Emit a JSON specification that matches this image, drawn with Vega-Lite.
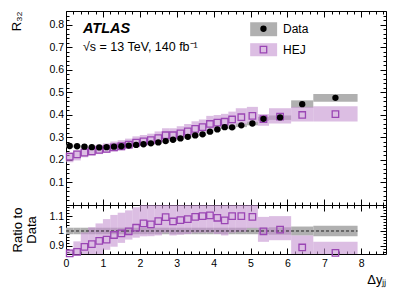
{
  "$schema": "https://vega.github.io/schema/vega-lite/v6.json",
  "padding": {"left": 10, "top": 5, "right": 20, "bottom": 2},
  "spacing": 0,
  "bounds": "flush",
  "config": {
    "view": {"stroke": "black", "strokeWidth": 1},
    "font": "Liberation Sans",
    "axis": {"domain": false, "grid": false, "labelFont": "Liberation Sans", "titleFont": "Liberation Sans", "labelColor": "black", "titleColor": "black", "tickColor": "black", "labelFontSize": 10.5, "titleFontSize": 13, "titleFontWeight": "normal", "labelOverlap": false, "labelFlush": false, "labelBound": false, "tickWidth": 1}
  },
  "datasets": {
    "bins": [
      {"x0": 0.0, "x1": 0.2, "xc": 0.1, "d": 0.262, "dlo": 0.256, "dhi": 0.268, "h": 0.215, "hlo": 0.19, "hhi": 0.234, "r": 0.849, "rlo": 0.78, "rhi": 0.875, "rdlo": 0.978, "rdhi": 1.022},
      {"x0": 0.2, "x1": 0.4, "xc": 0.3, "d": 0.261, "dlo": 0.255, "dhi": 0.267, "h": 0.225, "hlo": 0.198, "hhi": 0.243, "r": 0.86, "rlo": 0.79, "rhi": 0.93, "rdlo": 0.978, "rdhi": 1.022},
      {"x0": 0.4, "x1": 0.6, "xc": 0.5, "d": 0.259, "dlo": 0.253, "dhi": 0.265, "h": 0.233, "hlo": 0.212, "hhi": 0.253, "r": 0.893, "rlo": 0.8, "rhi": 0.99, "rdlo": 0.978, "rdhi": 1.022},
      {"x0": 0.6, "x1": 0.8, "xc": 0.7, "d": 0.257, "dlo": 0.251, "dhi": 0.263, "h": 0.238, "hlo": 0.219, "hhi": 0.26, "r": 0.911, "rlo": 0.82, "rhi": 1.025, "rdlo": 0.978, "rdhi": 1.022},
      {"x0": 0.8, "x1": 1.0, "xc": 0.9, "d": 0.256, "dlo": 0.25, "dhi": 0.262, "h": 0.245, "hlo": 0.226, "hhi": 0.268, "r": 0.933, "rlo": 0.84, "rhi": 1.051, "rdlo": 0.978, "rdhi": 1.022},
      {"x0": 1.0, "x1": 1.2, "xc": 1.1, "d": 0.257, "dlo": 0.251, "dhi": 0.263, "h": 0.249, "hlo": 0.231, "hhi": 0.274, "r": 0.942, "rlo": 0.873, "rhi": 1.08, "rdlo": 0.978, "rdhi": 1.022},
      {"x0": 1.2, "x1": 1.4, "xc": 1.3, "d": 0.259, "dlo": 0.253, "dhi": 0.265, "h": 0.256, "hlo": 0.238, "hhi": 0.282, "r": 0.973, "rlo": 0.894, "rhi": 1.108, "rdlo": 0.978, "rdhi": 1.022},
      {"x0": 1.4, "x1": 1.6, "xc": 1.5, "d": 0.261, "dlo": 0.255, "dhi": 0.267, "h": 0.261, "hlo": 0.243, "hhi": 0.288, "r": 0.984, "rlo": 0.92, "rhi": 1.123, "rdlo": 0.978, "rdhi": 1.022},
      {"x0": 1.6, "x1": 1.8, "xc": 1.7, "d": 0.264, "dlo": 0.258, "dhi": 0.27, "h": 0.268, "hlo": 0.249, "hhi": 0.295, "r": 0.998, "rlo": 0.942, "rhi": 1.139, "rdlo": 0.978, "rdhi": 1.022},
      {"x0": 1.8, "x1": 2.0, "xc": 1.9, "d": 0.267, "dlo": 0.261, "dhi": 0.273, "h": 0.277, "hlo": 0.257, "hhi": 0.305, "r": 1.022, "rlo": 0.955, "rhi": 1.16, "rdlo": 0.978, "rdhi": 1.022},
      {"x0": 2.0, "x1": 2.2, "xc": 2.1, "d": 0.27, "dlo": 0.264, "dhi": 0.276, "h": 0.283, "hlo": 0.262, "hhi": 0.311, "r": 1.051, "rlo": 0.964, "rhi": 1.19, "rdlo": 0.978, "rdhi": 1.022},
      {"x0": 2.2, "x1": 2.4, "xc": 2.3, "d": 0.274, "dlo": 0.268, "dhi": 0.28, "h": 0.288, "hlo": 0.267, "hhi": 0.317, "r": 1.044, "rlo": 0.965, "rhi": 1.19, "rdlo": 0.978, "rdhi": 1.022},
      {"x0": 2.4, "x1": 2.6, "xc": 2.5, "d": 0.278, "dlo": 0.272, "dhi": 0.284, "h": 0.297, "hlo": 0.276, "hhi": 0.327, "r": 1.067, "rlo": 0.97, "rhi": 1.2, "rdlo": 0.978, "rdhi": 1.022},
      {"x0": 2.6, "x1": 2.8, "xc": 2.7, "d": 0.284, "dlo": 0.278, "dhi": 0.29, "h": 0.31, "hlo": 0.288, "hhi": 0.341, "r": 1.093, "rlo": 0.99, "rhi": 1.22, "rdlo": 0.978, "rdhi": 1.022},
      {"x0": 2.8, "x1": 3.0, "xc": 2.9, "d": 0.29, "dlo": 0.284, "dhi": 0.296, "h": 0.31, "hlo": 0.288, "hhi": 0.341, "r": 1.064, "rlo": 0.97, "rhi": 1.2, "rdlo": 0.978, "rdhi": 1.022},
      {"x0": 3.0, "x1": 3.2, "xc": 3.1, "d": 0.296, "dlo": 0.29, "dhi": 0.302, "h": 0.318, "hlo": 0.296, "hhi": 0.35, "r": 1.073, "rlo": 0.975, "rhi": 1.2, "rdlo": 0.978, "rdhi": 1.022},
      {"x0": 3.2, "x1": 3.4, "xc": 3.3, "d": 0.303, "dlo": 0.296, "dhi": 0.31, "h": 0.327, "hlo": 0.304, "hhi": 0.36, "r": 1.08, "rlo": 0.98, "rhi": 1.2, "rdlo": 0.978, "rdhi": 1.022},
      {"x0": 3.4, "x1": 3.6, "xc": 3.5, "d": 0.309, "dlo": 0.302, "dhi": 0.316, "h": 0.338, "hlo": 0.314, "hhi": 0.372, "r": 1.095, "rlo": 0.99, "rhi": 1.22, "rdlo": 0.978, "rdhi": 1.022},
      {"x0": 3.6, "x1": 3.8, "xc": 3.7, "d": 0.314, "dlo": 0.307, "dhi": 0.321, "h": 0.346, "hlo": 0.322, "hhi": 0.38, "r": 1.1, "rlo": 0.99, "rhi": 1.22, "rdlo": 0.978, "rdhi": 1.022},
      {"x0": 3.8, "x1": 4.0, "xc": 3.9, "d": 0.326, "dlo": 0.319, "dhi": 0.333, "h": 0.36, "hlo": 0.335, "hhi": 0.396, "r": 1.105, "rlo": 0.99, "rhi": 1.22, "rdlo": 0.978, "rdhi": 1.022},
      {"x0": 4.0, "x1": 4.2, "xc": 4.1, "d": 0.336, "dlo": 0.329, "dhi": 0.343, "h": 0.366, "hlo": 0.34, "hhi": 0.4, "r": 1.089, "rlo": 0.98, "rhi": 1.2, "rdlo": 0.978, "rdhi": 1.022},
      {"x0": 4.2, "x1": 4.4, "xc": 4.3, "d": 0.346, "dlo": 0.338, "dhi": 0.354, "h": 0.37, "hlo": 0.344, "hhi": 0.405, "r": 1.071, "rlo": 0.97, "rhi": 1.19, "rdlo": 0.978, "rdhi": 1.022},
      {"x0": 4.4, "x1": 4.6, "xc": 4.5, "d": 0.345, "dlo": 0.337, "dhi": 0.353, "h": 0.38, "hlo": 0.353, "hhi": 0.415, "r": 1.1, "rlo": 0.99, "rhi": 1.22, "rdlo": 0.978, "rdhi": 1.022},
      {"x0": 4.6, "x1": 4.9, "xc": 4.75, "d": 0.354, "dlo": 0.346, "dhi": 0.362, "h": 0.39, "hlo": 0.36, "hhi": 0.43, "r": 1.1, "rlo": 0.995, "rhi": 1.22, "rdlo": 0.978, "rdhi": 1.022},
      {"x0": 4.9, "x1": 5.2, "xc": 5.05, "d": 0.362, "dlo": 0.354, "dhi": 0.37, "h": 0.396, "hlo": 0.367, "hhi": 0.436, "r": 1.095, "rlo": 1.02, "rhi": 1.21, "rdlo": 0.978, "rdhi": 1.022},
      {"x0": 5.2, "x1": 5.5, "xc": 5.35, "d": 0.383, "dlo": 0.374, "dhi": 0.392, "h": 0.382, "hlo": 0.352, "hhi": 0.404, "r": 0.998, "rlo": 0.927, "rhi": 1.095, "rdlo": 0.978, "rdhi": 1.022},
      {"x0": 5.5, "x1": 6.1, "xc": 5.8, "d": 0.389, "dlo": 0.378, "dhi": 0.398, "h": 0.393, "hlo": 0.362, "hhi": 0.43, "r": 1.009, "rlo": 0.938, "rhi": 1.1, "rdlo": 0.975, "rdhi": 1.025},
      {"x0": 6.1, "x1": 6.7, "xc": 6.4, "d": 0.448, "dlo": 0.432, "dhi": 0.465, "h": 0.4, "hlo": 0.371, "hhi": 0.436, "r": 0.889, "rlo": 0.82, "rhi": 0.97, "rdlo": 0.97, "rdhi": 1.03},
      {"x0": 6.7, "x1": 7.9, "xc": 7.3, "d": 0.476, "dlo": 0.459, "dhi": 0.493, "h": 0.404, "hlo": 0.371, "hhi": 0.439, "r": 0.853, "rlo": 0.78, "rhi": 0.927, "rdlo": 0.964, "rdhi": 1.036}
    ]
  },
  "vconcat": [
    {
      "width": 320,
      "height": 194,
      "data": {"name": "bins"},
      "resolve": {"axis": {"x": "independent", "y": "independent"}},
      "layer": [
        {
          "mark": {"type": "rect", "color": "#b0b0b0"},
          "encoding": {
            "x": {"field": "x0", "type": "quantitative", "scale": {"domain": [0, 8.67], "nice": false, "zero": false},
              "axis": {"orient": "bottom", "labels": false, "title": null,
                "values": [0,0.2,0.4,0.6,0.8,1,1.2,1.4,1.6,1.8,2,2.2,2.4,2.6,2.8,3,3.2,3.4,3.6,3.8,4,4.2,4.4,4.6,4.8,5,5.2,5.4,5.6,5.8,6,6.2,6.4,6.6,6.8,7,7.2,7.4,7.6,7.8,8,8.2,8.4,8.6],
                "tickSize": {"condition": {"test": "abs(datum.value - round(datum.value)) < 0.001", "value": -6}, "value": -3}}},
            "x2": {"field": "x1"},
            "y": {"field": "dlo", "type": "quantitative", "scale": {"domain": [0, 0.862], "nice": false, "zero": false},
              "axis": {"orient": "left", "title": "R₃₂", "titleAnchor": "end", "titlePadding": 25,
                "values": [0,0.02,0.04,0.06,0.08,0.1,0.12,0.14,0.16,0.18,0.2,0.22,0.24,0.26,0.28,0.3,0.32,0.34,0.36,0.38,0.4,0.42,0.44,0.46,0.48,0.5,0.52,0.54,0.56,0.58,0.6,0.62,0.64,0.66,0.68,0.7,0.72,0.74,0.76,0.78,0.8,0.82,0.84,0.86],
                "labelExpr": "abs(datum.value*10 - round(datum.value*10)) < 0.001 && datum.value > 0.05 ? format(datum.value, '.1f') : ''",
                "labelPadding": 8.5,
                "tickSize": {"condition": {"test": "abs(datum.value*10 - round(datum.value*10)) < 0.001", "value": -6}, "value": -3}}},
            "y2": {"field": "dhi"}
          }
        },
        {
          "mark": {"type": "rect", "color": "#c593d0", "opacity": 0.6},
          "encoding": {
            "x": {"field": "x0", "type": "quantitative", "axis": null},
            "x2": {"field": "x1"},
            "y": {"field": "hlo", "type": "quantitative", "axis": null},
            "y2": {"field": "hhi"}
          }
        },
        {
          "mark": {"type": "point", "shape": "square", "filled": false, "stroke": "#9a46b4", "strokeWidth": 1.3, "size": 42, "opacity": 1},
          "encoding": {
            "x": {"field": "xc", "type": "quantitative",
              "axis": {"orient": "top", "labels": false, "title": null,
                "values": [0,0.2,0.4,0.6,0.8,1,1.2,1.4,1.6,1.8,2,2.2,2.4,2.6,2.8,3,3.2,3.4,3.6,3.8,4,4.2,4.4,4.6,4.8,5,5.2,5.4,5.6,5.8,6,6.2,6.4,6.6,6.8,7,7.2,7.4,7.6,7.8,8,8.2,8.4,8.6],
                "tickSize": {"condition": {"test": "abs(datum.value - round(datum.value)) < 0.001", "value": -6}, "value": -3}}},
            "y": {"field": "h", "type": "quantitative",
              "axis": {"orient": "right", "labels": false, "title": null,
                "values": [0,0.02,0.04,0.06,0.08,0.1,0.12,0.14,0.16,0.18,0.2,0.22,0.24,0.26,0.28,0.3,0.32,0.34,0.36,0.38,0.4,0.42,0.44,0.46,0.48,0.5,0.52,0.54,0.56,0.58,0.6,0.62,0.64,0.66,0.68,0.7,0.72,0.74,0.76,0.78,0.8,0.82,0.84,0.86],
                "tickSize": {"condition": {"test": "abs(datum.value*10 - round(datum.value*10)) < 0.001", "value": -6}, "value": -3}}}
          }
        },
        {
          "mark": {"type": "circle", "color": "black", "size": 40, "opacity": 1},
          "encoding": {
            "x": {"field": "xc", "type": "quantitative", "axis": null},
            "y": {"field": "d", "type": "quantitative", "axis": null}
          }
        },
        {
          "data": {"values": [{}]},
          "mark": {"type": "rect", "color": "#b0b0b0"},
          "encoding": {
            "x": {"datum": 4.99, "type": "quantitative", "axis": null},
            "x2": {"datum": 5.72},
            "y": {"datum": 0.812, "type": "quantitative", "axis": null},
            "y2": {"datum": 0.75}
          }
        },
        {
          "data": {"values": [{}]},
          "mark": {"type": "rect", "color": "#c593d0", "opacity": 0.6},
          "encoding": {
            "x": {"datum": 4.99, "type": "quantitative", "axis": null},
            "x2": {"datum": 5.72},
            "y": {"datum": 0.719, "type": "quantitative", "axis": null},
            "y2": {"datum": 0.661}
          }
        },
        {
          "data": {"values": [{}]},
          "mark": {"type": "circle", "color": "black", "size": 40, "opacity": 1},
          "encoding": {
            "x": {"datum": 5.35, "type": "quantitative", "axis": null},
            "y": {"datum": 0.783, "type": "quantitative", "axis": null}
          }
        },
        {
          "data": {"values": [{}]},
          "mark": {"type": "point", "shape": "square", "filled": false, "stroke": "#9a46b4", "strokeWidth": 1.3, "size": 42, "opacity": 1},
          "encoding": {
            "x": {"datum": 5.35, "type": "quantitative", "axis": null},
            "y": {"datum": 0.69, "type": "quantitative", "axis": null}
          }
        },
        {
          "data": {"values": [{}]},
          "mark": {"type": "text", "text": "Data", "fontSize": 12, "align": "left", "baseline": "middle", "color": "black"},
          "encoding": {
            "x": {"datum": 5.88, "type": "quantitative", "axis": null},
            "y": {"datum": 0.783, "type": "quantitative", "axis": null}
          }
        },
        {
          "data": {"values": [{}]},
          "mark": {"type": "text", "text": "HEJ", "fontSize": 12, "align": "left", "baseline": "middle", "color": "black"},
          "encoding": {
            "x": {"datum": 5.88, "type": "quantitative", "axis": null},
            "y": {"datum": 0.69, "type": "quantitative", "axis": null}
          }
        },
        {
          "data": {"values": [{}]},
          "mark": {"type": "text", "text": "ATLAS", "fontSize": 14.5, "fontWeight": "bold", "fontStyle": "italic", "align": "left", "baseline": "alphabetic", "color": "black"},
          "encoding": {
            "x": {"datum": 0.46, "type": "quantitative", "axis": null},
            "y": {"datum": 0.765, "type": "quantitative", "axis": null}
          }
        },
        {
          "data": {"values": [{}]},
          "mark": {"type": "text", "text": "√s = 13 TeV, 140 fb⁻¹", "fontSize": 12.5, "align": "left", "baseline": "alphabetic", "color": "black"},
          "encoding": {
            "x": {"datum": 0.46, "type": "quantitative", "axis": null},
            "y": {"datum": 0.684, "type": "quantitative", "axis": null}
          }
        }
      ]
    },
    {
      "width": 320,
      "height": 49,
      "data": {"name": "bins"},
      "resolve": {"axis": {"x": "independent", "y": "independent"}},
      "layer": [
        {
          "mark": {"type": "rect", "color": "#b0b0b0", "clip": true},
          "encoding": {
            "x": {"field": "x0", "type": "quantitative", "scale": {"domain": [0, 8.67], "nice": false, "zero": false},
              "axis": {"orient": "bottom", "title": "Δyⱼⱼ", "titleAnchor": "end", "titlePadding": 2, "labelPadding": 10,
                "values": [0,0.2,0.4,0.6,0.8,1,1.2,1.4,1.6,1.8,2,2.2,2.4,2.6,2.8,3,3.2,3.4,3.6,3.8,4,4.2,4.4,4.6,4.8,5,5.2,5.4,5.6,5.8,6,6.2,6.4,6.6,6.8,7,7.2,7.4,7.6,7.8,8,8.2,8.4,8.6],
                "labelExpr": "abs(datum.value - round(datum.value)) < 0.001 ? format(datum.value, 'd') : ''",
                "tickSize": {"condition": {"test": "abs(datum.value - round(datum.value)) < 0.001", "value": -6}, "value": -3}}},
            "x2": {"field": "x1"},
            "y": {"field": "rdlo", "type": "quantitative", "scale": {"domain": [0.845, 1.175], "nice": false, "zero": false},
              "axis": {"orient": "left", "title": ["Ratio to", "Data"], "titleLineHeight": 14, "titlePadding": 10, "labelPadding": 8.5,
                "values": [0.86,0.88,0.9,0.92,0.94,0.96,0.98,1,1.02,1.04,1.06,1.08,1.1,1.12,1.14,1.16],
                "labelExpr": "abs(datum.value*10 - round(datum.value*10)) < 0.001 ? (abs(datum.value - 1) < 0.001 ? '1' : format(datum.value, '.1f')) : ''",
                "tickSize": {"condition": {"test": "abs(datum.value*10 - round(datum.value*10)) < 0.001", "value": -6}, "value": -3}}},
            "y2": {"field": "rdhi"}
          }
        },
        {
          "mark": {"type": "rect", "color": "#c593d0", "opacity": 0.6, "clip": true},
          "encoding": {
            "x": {"field": "x0", "type": "quantitative", "axis": null},
            "x2": {"field": "x1"},
            "y": {"field": "rlo", "type": "quantitative", "axis": null},
            "y2": {"field": "rhi"}
          }
        },
        {
          "data": {"values": [{}]},
          "mark": {"type": "rule", "color": "black", "strokeDash": [3, 2], "strokeWidth": 0.8},
          "encoding": {
            "x": {"datum": 0, "type": "quantitative", "axis": null},
            "x2": {"datum": 7.9},
            "y": {"datum": 1, "type": "quantitative", "axis": null}
          }
        },
        {
          "mark": {"type": "point", "shape": "square", "filled": false, "stroke": "#9a46b4", "strokeWidth": 1.3, "size": 42, "opacity": 1},
          "encoding": {
            "x": {"field": "xc", "type": "quantitative",
              "axis": {"orient": "top", "labels": false, "title": null,
                "values": [0,0.2,0.4,0.6,0.8,1,1.2,1.4,1.6,1.8,2,2.2,2.4,2.6,2.8,3,3.2,3.4,3.6,3.8,4,4.2,4.4,4.6,4.8,5,5.2,5.4,5.6,5.8,6,6.2,6.4,6.6,6.8,7,7.2,7.4,7.6,7.8,8,8.2,8.4,8.6],
                "tickSize": {"condition": {"test": "abs(datum.value - round(datum.value)) < 0.001", "value": -6}, "value": -3}}},
            "y": {"field": "r", "type": "quantitative",
              "axis": {"orient": "right", "labels": false, "title": null,
                "values": [0.86,0.88,0.9,0.92,0.94,0.96,0.98,1,1.02,1.04,1.06,1.08,1.1,1.12,1.14,1.16],
                "tickSize": {"condition": {"test": "abs(datum.value*10 - round(datum.value*10)) < 0.001", "value": -6}, "value": -3}}}
          }
        }
      ]
    }
  ]
}
